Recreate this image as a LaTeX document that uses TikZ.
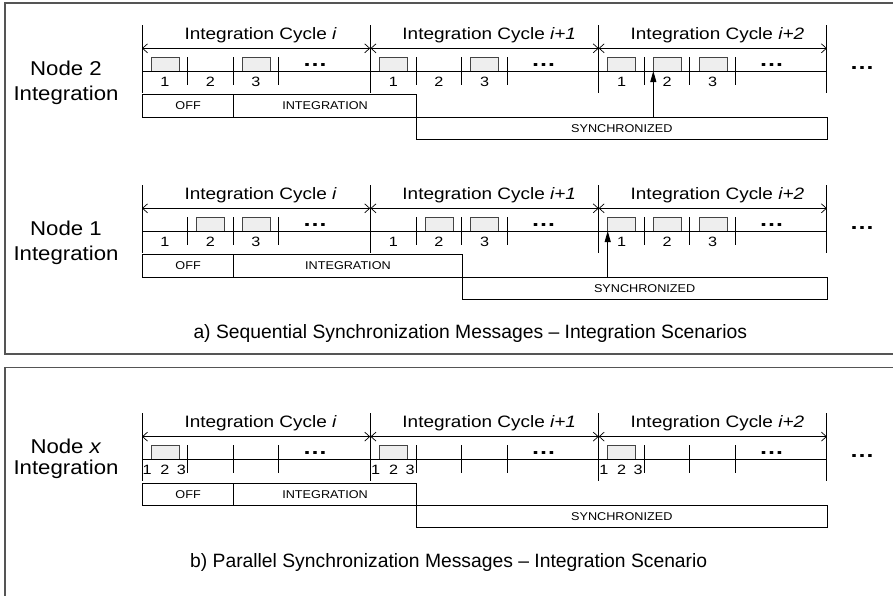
\documentclass[tikz,border=0pt]{standalone}
\usepackage{fontspec}
\usepackage{graphicx}
\setmainfont{Liberation Sans}
\usetikzlibrary{arrows.meta}
\definecolor{framegray}{HTML}{555555}
\definecolor{msgfill}{HTML}{EEEEEE}
\definecolor{msgline}{HTML}{444444}
\newcommand\fsz[1]{\fontsize{#1}{#1}\selectfont}
% horizontally widened text
\newcommand\hs[2]{\scalebox{#1}[1]{#2}}

% Skeleton of one timeline: #1 = row id, #2 = baseline y
\newcommand\timeline[2]{%
  \draw (142,#2) -- (826.7,#2);
  \foreach \c in {142,370.5,598.7,826.7} \draw (\c,#2-46) -- (\c,#2+22);
  \foreach \c/\t [count=\n] in {142/i, 370.5/i+1, 598.7/i+2} {
    \draw[span] (\c,#2-22.7) -- (\c+228.2,#2-22.7);
    \node[cyclelabel] (cyc#1-\n) at (\c+118.7,#2-31.7) {\hs{1.15}{Integration Cycle \textit{\t}}};
    \foreach \k in {1,2,3} \draw (\c+45.6*\k,#2-14) -- (\c+45.6*\k,#2+14);
    \node[dots] (dots#1-\n) at (\c+173,#2-4.5) {\hs{1.25}{…}};
  }
  \node[dots] (more#1) at (862,#2-1.5) {\hs{1.25}{…}};
}

\begin{document}
\begin{tikzpicture}[x=1pt,y=-1pt, line width=0.9pt,
  frame/.style={draw=framegray, line width=1.3pt},
  rowlabel/.style={font=\fsz{20}, anchor=base, inner sep=0pt},
  cyclelabel/.style={font=\fsz{16.5}, anchor=base, inner sep=0pt},
  slotnum/.style={font=\fsz{13.5}, anchor=base, inner sep=0pt},
  statebox/.style={draw, font=\fsz{11.3}, anchor=north west, inner sep=0pt, minimum height=22.4pt},
  msg/.style={draw=msgline, fill=msgfill, line width=0.8pt},
  span/.style={{Straight Barb[length=5pt,width=9pt]}-{Straight Barb[length=5pt,width=9pt]}, line width=0.7pt},
  syncarrow/.style={-{Triangle[length=11pt,width=6pt]}, line width=0.9pt},
  dots/.style={font=\fsz{20}\bfseries, anchor=base, inner sep=0pt},
  caption/.style={font=\fsz{19.3}, anchor=base, inner sep=0pt}
]
\useasboundingbox (0,0) rectangle (893,595);
\clip (0,0) rectangle (893,595);

% panel frames
\draw[frame] (5,3) rectangle (905,354);
\draw[frame] (5,367.7) rectangle (905,610);

% ---------- Node 2 (sequential) ----------
\node[rowlabel] (n2a) at (66,75) {\hs{1.11}{Node 2}};
\node[rowlabel] (n2b) at (66,100.5) {\hs{1.11}{Integration}};
\foreach \c/\k in {142/0,142/2,370.5/0,370.5/2,598.7/0,598.7/1,598.7/2}
  \draw[msg] (\c+45.6*\k+9,57) rectangle (\c+45.6*\k+37,71);
\timeline{1}{71}
\foreach \c [count=\m] in {142,370.5,598.7}
  \foreach \k in {0,1,2}
    \node[slotnum] (num1-\m-\k) at (\c+45.6*\k+22.8,86.5) {\hs{1.2}{\the\numexpr\k+1\relax}};
\node[statebox, minimum width=91.3pt] (off1) at (142,94.3) {\hs{1.12}{OFF}};
\node[statebox, minimum width=182.7pt] (int1) at (233.3,94.3) {\hs{1.12}{INTEGRATION}};
\node[statebox, minimum width=410.7pt] (syn1) at (416,116.7) {\hs{1.12}{SYNCHRONIZED}};
\coordinate (hit1) at (653.3,71);
\draw[syncarrow] (syn1.north -| hit1) -- (hit1);

% ---------- Node 1 (sequential) ----------
\node[rowlabel] (n1a) at (66,235) {\hs{1.11}{Node 1}};
\node[rowlabel] (n1b) at (66,260.5) {\hs{1.11}{Integration}};
\foreach \c/\k in {142/1,142/2,370.5/1,370.5/2,598.7/0,598.7/1,598.7/2}
  \draw[msg] (\c+45.6*\k+9,217) rectangle (\c+45.6*\k+37,231);
\timeline{2}{231}
\foreach \c [count=\m] in {142,370.5,598.7}
  \foreach \k in {0,1,2}
    \node[slotnum] (num2-\m-\k) at (\c+45.6*\k+22.8,246.5) {\hs{1.2}{\the\numexpr\k+1\relax}};
\node[statebox, minimum width=91.3pt] (off2) at (142,254.3) {\hs{1.12}{OFF}};
\node[statebox, minimum width=228.4pt] (int2) at (233.3,254.3) {\hs{1.12}{INTEGRATION}};
\node[statebox, minimum width=365pt] (syn2) at (461.7,276.7) {\hs{1.12}{SYNCHRONIZED}};
\coordinate (hit2) at (607.7,231);
\draw[syncarrow] (syn2.north -| hit2) -- (hit2);

\node[caption] (capa) at (470.3,338.3) {a) Sequential Synchronization Messages – Integration Scenarios};

% ---------- Node x (parallel) ----------
\node[rowlabel] (nxa) at (66,453.5) {\hs{1.11}{Node \textit{x}}};
\node[rowlabel] (nxb) at (66,474.5) {\hs{1.11}{Integration}};
\foreach \c in {142,370.5,598.7}
  \draw[msg] (\c+9,445.3) rectangle (\c+37,459.3);
\timeline{3}{459.3}
\foreach \c [count=\m] in {142,370.5,598.7} {
  \node[slotnum] (p\m-1) at (\c+5.2,474.5) {\hs{1.2}{1}};
  \node[slotnum] (p\m-2) at (\c+23,474.5) {\hs{1.2}{2}};
  \node[slotnum] (p\m-3) at (\c+39.5,474.5) {\hs{1.2}{3}};
}
\node[statebox, minimum width=91.3pt] (off3) at (142,482.6) {\hs{1.12}{OFF}};
\node[statebox, minimum width=182.7pt] (int3) at (233.3,482.6) {\hs{1.12}{INTEGRATION}};
\node[statebox, minimum width=410.7pt] (syn3) at (416,505) {\hs{1.12}{SYNCHRONIZED}};

\node[caption] (capb) at (448.7,567.3) {b) Parallel Synchronization Messages – Integration Scenario};
\end{tikzpicture}
\end{document}
